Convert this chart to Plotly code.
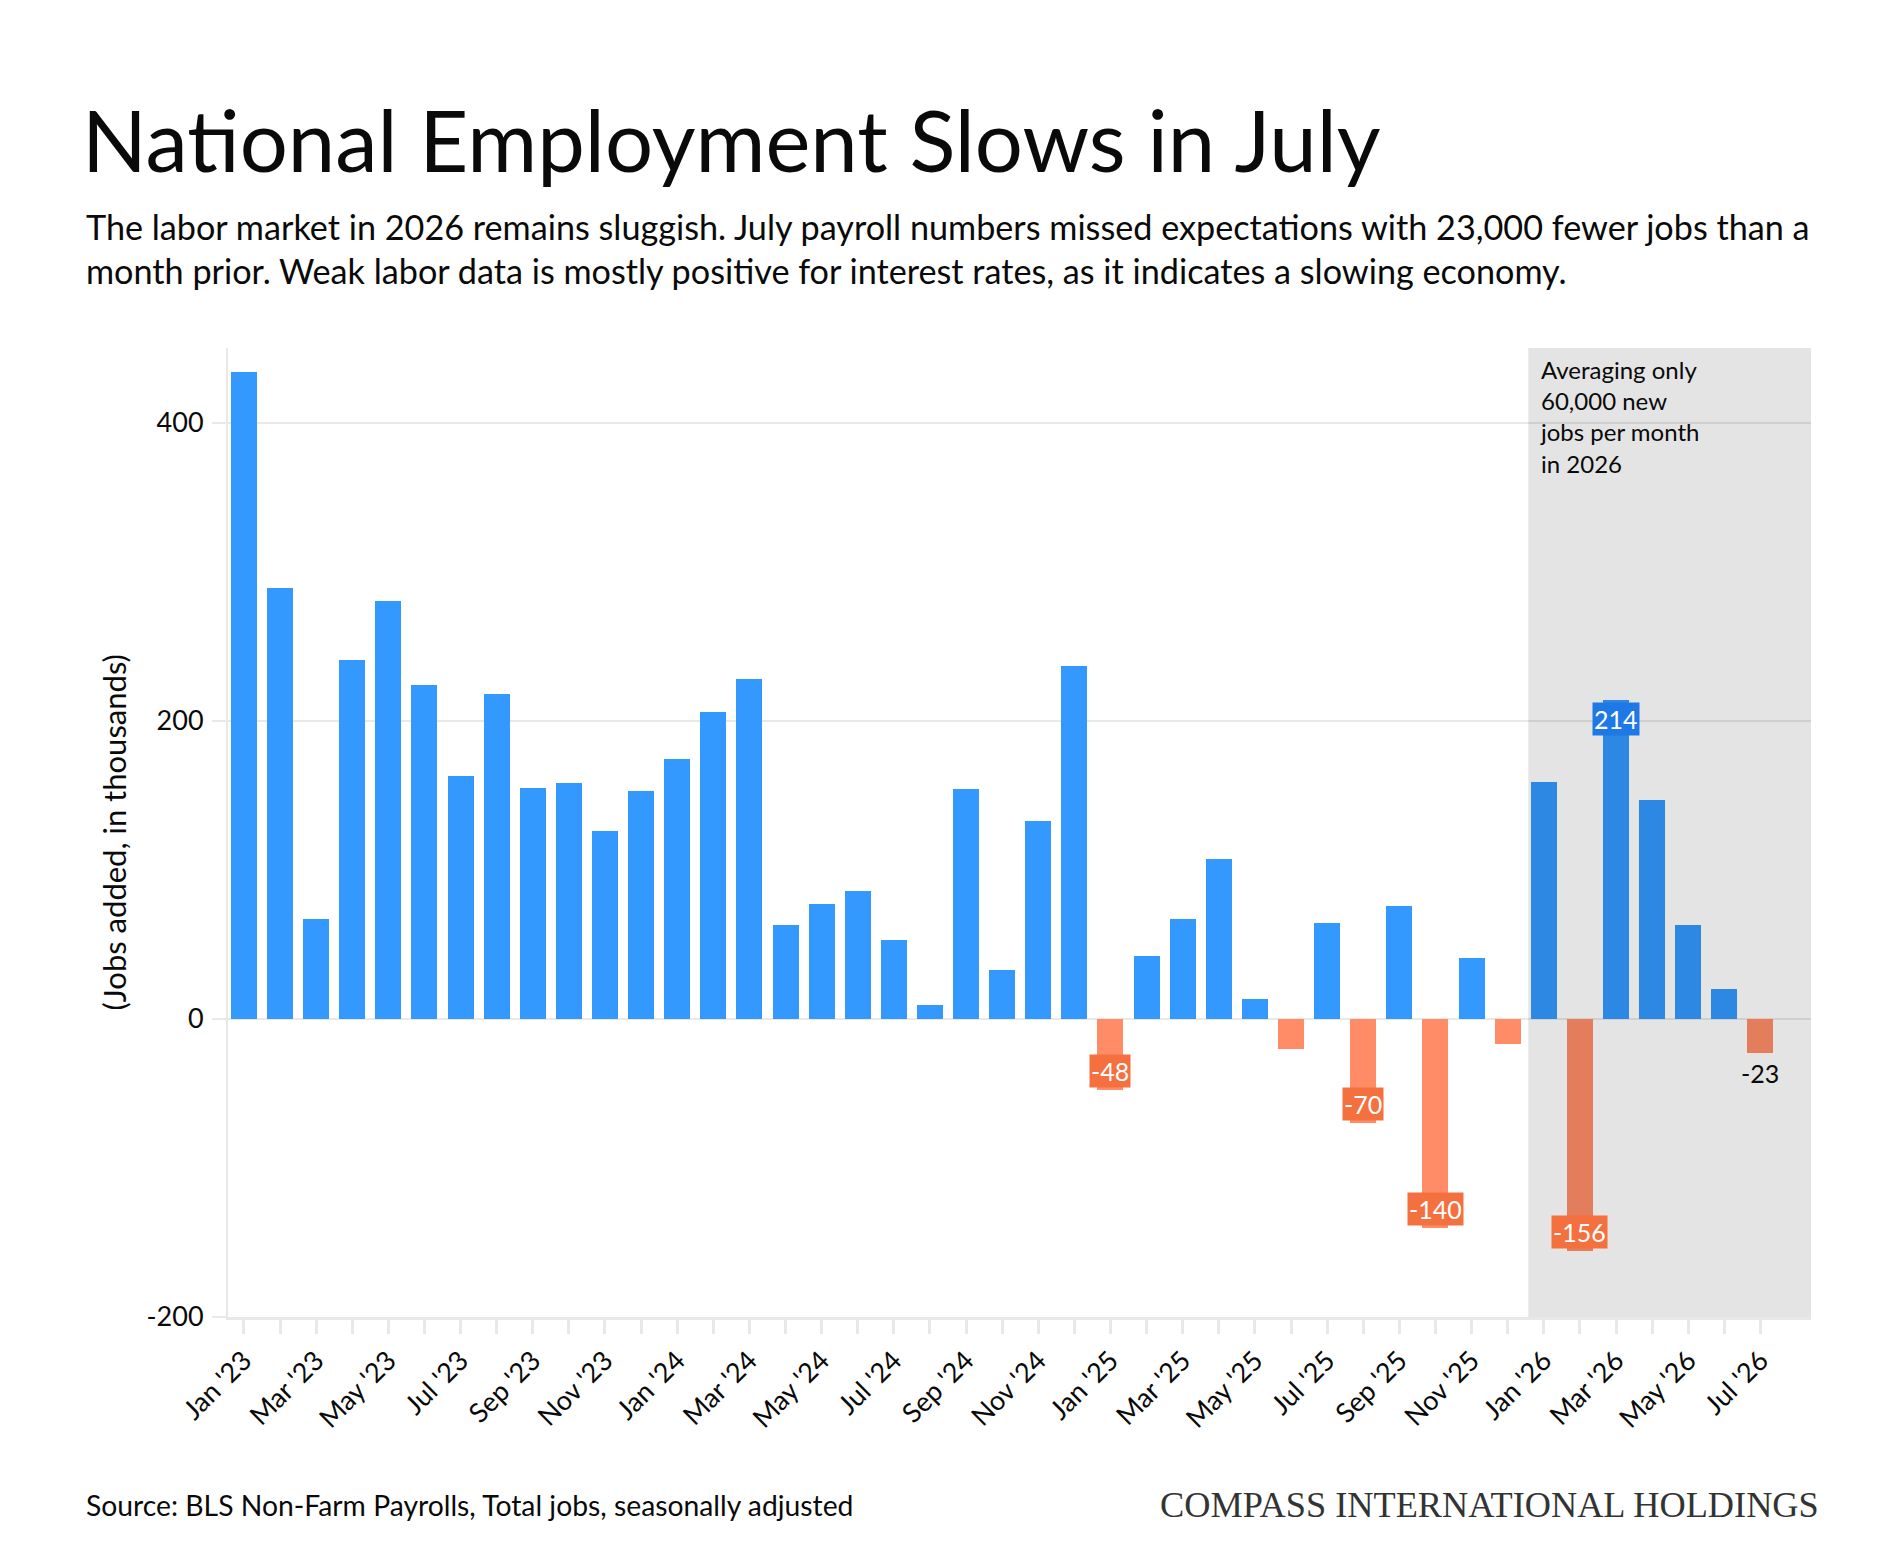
import plotly.graph_objects as go

# ---------------- data ----------------
months = [
    "Jan '23", "Feb '23", "Mar '23", "Apr '23", "May '23", "Jun '23", "Jul '23", "Aug '23",
    "Sep '23", "Oct '23", "Nov '23", "Dec '23",
    "Jan '24", "Feb '24", "Mar '24", "Apr '24", "May '24", "Jun '24", "Jul '24", "Aug '24",
    "Sep '24", "Oct '24", "Nov '24", "Dec '24",
    "Jan '25", "Feb '25", "Mar '25", "Apr '25", "May '25", "Jun '25", "Jul '25", "Aug '25",
    "Sep '25", "Oct '25", "Nov '25", "Dec '25",
    "Jan '26", "Feb '26", "Mar '26", "Apr '26", "May '26", "Jun '26", "Jul '26",
]
jobs_added = [
    434, 289, 67, 241, 280, 224, 163, 218, 155, 158, 126, 153,
    174, 206, 228, 63, 77, 86, 53, 9, 154, 33, 133, 237,
    -48, 42, 67, 107, 13, -20, 64, -70, 76, -140, 41, -17,
    159, -156, 214, 147, 63, 20, -23,
]
boxed_labels = ["Jan '25", "Aug '25", "Oct '25", "Feb '26", "Mar '26"]
plain_labels = ["Jul '26"]
highlight_start = "Jan '26"
y_ticks = [-200, 0, 200, 400]

# ---------------- styling ----------------
W, H = 1900, 1568
OFF = 8  # page body margin compensation
L, R, T, B = 228 - OFF, 1811 - OFF, 348 - OFF, 1317 - OFF
FONT = "Lato"
BLUE = "#3399FF"
ORANGE = "#FF8C66"
BLUE_BOX = "#1E78E6"
ORANGE_BOX = "#F4703F"
GRID = "#E8E8E8"
INK = "#0a0a0a"


def px_x(p):
    return (p - OFF - L) / (R - L)


def px_y(p):
    return (B - (p - OFF)) / (B - T)


idx = list(range(len(months)))
colors = [BLUE if v >= 0 else ORANGE for v in jobs_added]

fig = go.Figure()
fig.add_trace(go.Bar(
    x=idx, y=jobs_added, marker=dict(color=colors, line=dict(width=0)),
    width=0.72, hoverinfo="skip",
))

x_range = [-0.44, 43.4]
hs = months.index(highlight_start)
fig.add_shape(type="rect", xref="x", yref="paper", x0=hs - 0.43, x1=x_range[1],
              y0=0, y1=1, fillcolor="rgba(0,0,0,0.105)", line=dict(width=0), layer="above")

annotations = []
for m in boxed_labels:
    i = months.index(m)
    v = jobs_added[i]
    annotations.append(dict(
        x=i, y=v, xref="x", yref="y", text=str(v), showarrow=False,
        yshift=-19 if v > 0 else 19, yanchor="middle", xanchor="center",
        font=dict(family=FONT, size=25, color="white"),
        bgcolor=BLUE_BOX if v > 0 else ORANGE_BOX, borderpad=1,
    ))
for m in plain_labels:
    i = months.index(m)
    v = jobs_added[i]
    annotations.append(dict(
        x=i, y=v, xref="x", yref="y", text=str(v), showarrow=False,
        yshift=-20 if v < 0 else 20, yanchor="middle", xanchor="center",
        font=dict(family=FONT, size=25, color=INK),
    ))

annotations.append(dict(
    x=px_x(1538), y=px_y(353), xref="paper", yref="paper", xanchor="left", yanchor="top",
    align="left", showarrow=False,
    text="Averaging only<br>60,000 new<br>jobs per month<br>in 2026",
    font=dict(family=FONT, size=24, color=INK),
))

# y-axis title
annotations.append(dict(
    x=px_x(113), y=0.5, xref="paper", yref="paper", xanchor="center", yanchor="middle",
    textangle=-90, showarrow=False, text="(Jobs added, in thousands)",
    font=dict(family=FONT, size=31, color=INK),
))

# title / subtitle
annotations.append(dict(
    x=px_x(80), y=px_y(86), xref="paper", yref="paper", xanchor="left", yanchor="top",
    showarrow=False, text="National Employment Slows in July",
    font=dict(family=FONT, size=85, color=INK),
))
annotations.append(dict(
    x=px_x(84), y=px_y(204), xref="paper", yref="paper", xanchor="left", yanchor="top",
    align="left", showarrow=False,
    text=("The labor market in 2026 remains sluggish. July payroll numbers missed expectations with 23,000 fewer jobs than a"
          "<br>month prior. Weak labor data is mostly positive for interest rates, as it indicates a slowing economy."),
    font=dict(family=FONT, size=34.2, color=INK),
))

# footer
annotations.append(dict(
    x=px_x(84), y=px_y(1505), xref="paper", yref="paper", xanchor="left", yanchor="middle",
    showarrow=False, text="Source: BLS Non-Farm Payrolls, Total jobs, seasonally adjusted",
    font=dict(family=FONT, size=28.3, color=INK),
))
annotations.append(dict(
    x=px_x(1821), y=px_y(1505), xref="paper", yref="paper", xanchor="right", yanchor="middle",
    showarrow=False, text="COMPASS INTERNATIONAL HOLDINGS",
    font=dict(family="Liberation Serif", size=36.3, color="#333333"),
))

fig.update_layout(
    width=W, height=H,
    margin=dict(l=L, r=W - R, t=T, b=H - B, autoexpand=False),
    paper_bgcolor="white", plot_bgcolor="white",
    showlegend=False, bargap=0,
    font=dict(family=FONT, size=24, color=INK),
    annotations=annotations,
)
fig.update_xaxes(
    range=x_range, tickmode="array", tickvals=idx,
    ticktext=[m if i % 2 == 0 else "" for i, m in enumerate(months)],
    tickangle=-45, ticks="outside", ticklen=14, tickwidth=3, tickcolor=GRID,
    showline=True, linecolor=GRID, linewidth=3, showgrid=False, zeroline=False,
    tickfont=dict(family=FONT, size=27, color=INK),
)
fig.update_yaxes(
    range=[-200, 450], tickmode="array", tickvals=y_ticks,
    ticktext=[str(v) for v in y_ticks],
    ticks="outside", ticklen=14, tickwidth=2, tickcolor=GRID, ticklabelstandoff=3,
    showline=True, linecolor=GRID, linewidth=2,
    showgrid=True, gridcolor=GRID, gridwidth=2,
    zeroline=True, zerolinecolor=GRID, zerolinewidth=2,
    tickfont=dict(family=FONT, size=27, color=INK),
)

fig.write_html("out.html")
